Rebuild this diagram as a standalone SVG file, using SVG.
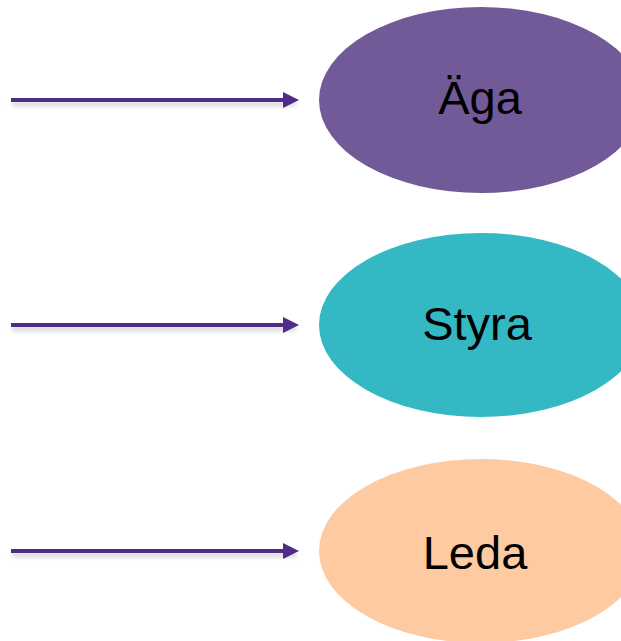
<svg xmlns="http://www.w3.org/2000/svg" width="621" height="641" viewBox="0 0 621 641">
<defs>
<style>
.lbl{font-family:"Liberation Sans",Arial,sans-serif;font-size:47px;fill:#000;text-anchor:middle}
.conn{stroke:#4F2D86;stroke-width:4;fill:none}
.sh{stroke:#000;stroke-opacity:0.18;stroke-width:4;fill:none}
</style>
<marker id="ah" markerWidth="16" markerHeight="16" refX="1" refY="8" orient="auto" markerUnits="userSpaceOnUse" viewBox="0 0 16 16">
<path d="M0,0 L16,8 L0,16 Z" fill="#4F2D86"/>
</marker>
<filter id="blur" x="-10%" y="-200%" width="120%" height="500%"><feGaussianBlur stdDeviation="2"/></filter>
</defs>
<rect width="621" height="641" fill="#fff"/>
<g id="connectors">
<g filter="url(#blur)">
<line class="sh" x1="12" y1="104" x2="296" y2="104"/>
<line class="sh" x1="12" y1="329" x2="296" y2="329"/>
<line class="sh" x1="12" y1="555" x2="296" y2="555"/>
</g>
<line class="conn" x1="11" y1="100" x2="284" y2="100" marker-end="url(#ah)"/>
<line class="conn" x1="11" y1="325" x2="284" y2="325" marker-end="url(#ah)"/>
<line class="conn" x1="11" y1="551" x2="284" y2="551" marker-end="url(#ah)"/>
</g>
<g id="aga">
<ellipse cx="481" cy="100" rx="162" ry="93" fill="#725A99"/>
<text class="lbl" x="480" y="114">Äga</text>
</g>
<g id="styra">
<ellipse cx="481" cy="325" rx="162" ry="92" fill="#33B8C4"/>
<text class="lbl" x="477" y="340">Styra</text>
</g>
<g id="leda">
<ellipse cx="481" cy="551" rx="162" ry="92" fill="#FDCAA2"/>
<text class="lbl" x="475" y="569">Leda</text>
</g>
</svg>
